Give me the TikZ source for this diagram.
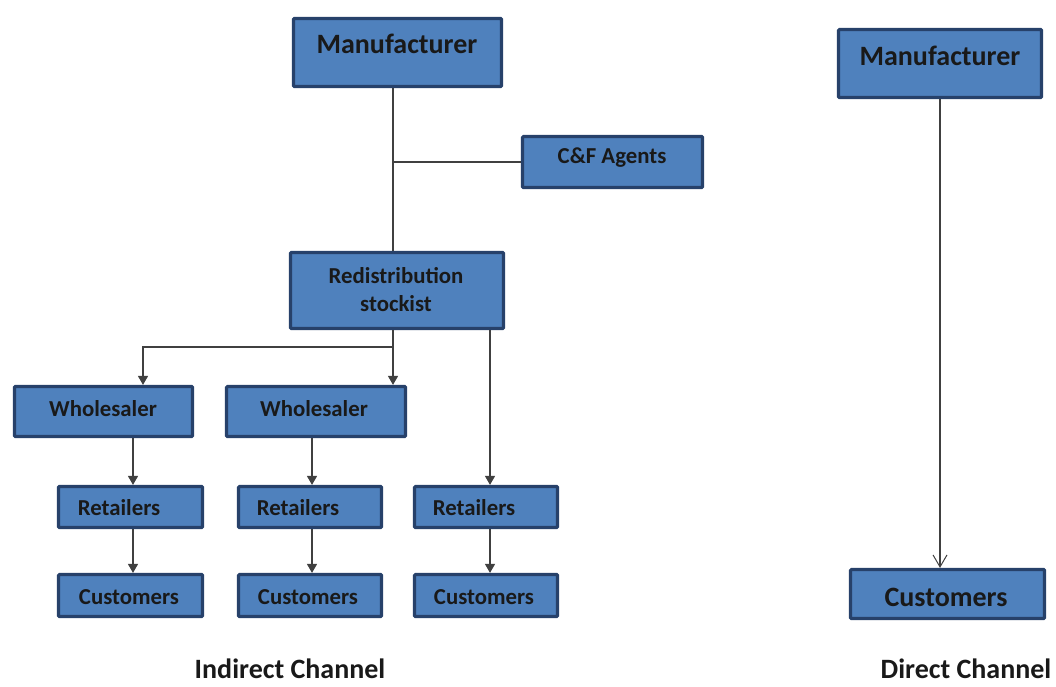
\documentclass[tikz,border=0pt]{standalone}
\usepackage{fontspec}
\setmainfont{Carlito}
\usetikzlibrary{arrows.meta,calc}
\definecolor{boxfill}{HTML}{4F81BD}
\definecolor{boxline}{HTML}{27416A}
\definecolor{conn}{HTML}{404040}
\tikzset{
  box/.style={draw=boxline, fill=boxfill, line width=3.2pt, rounded corners=1pt, inner sep=0pt},
  lbl/.style={font=\bfseries, text=black!90, inner sep=0pt, align=center},
  big/.style={font=\bfseries\fontsize{28}{28}\selectfont},
  mid/.style={font=\bfseries\fontsize{22.8}{28}\selectfont},
  conline/.style={draw=conn, line width=1.3pt},
  farrow/.style={conline, -{Triangle[length=9pt,width=10pt]}},
  oarrow/.style={conline, -{Straight Barb[length=12pt,width=14pt,line width=1pt]}},
}
\begin{document}
\begin{tikzpicture}[x=1pt,y=-1pt]
\useasboundingbox (0,0) rectangle (1056,686);
% boxes
\node[box, minimum width=208pt, minimum height=68pt] (m1) at (397.5,52.5) {};
\node[box, minimum width=180pt, minimum height=51pt] (cf) at (612.5,162) {};
\node[box, minimum width=213pt, minimum height=76pt] (rs) at (397,290.5) {};
\node[box, minimum width=178pt, minimum height=50pt] (w1) at (103.5,411.5) {};
\node[box, minimum width=179pt, minimum height=50pt] (w2) at (316,411.5) {};
\node[box, minimum width=144pt, minimum height=41pt] (r1) at (130.5,507) {};
\node[box, minimum width=143pt, minimum height=41pt] (r2) at (310,507) {};
\node[box, minimum width=143pt, minimum height=41pt] (r3) at (486,507) {};
\node[box, minimum width=144pt, minimum height=42pt] (c1) at (130.5,595.5) {};
\node[box, minimum width=143pt, minimum height=42pt] (c2) at (310,595.5) {};
\node[box, minimum width=143pt, minimum height=42pt] (c3) at (486,595.5) {};
\node[box, minimum width=203pt, minimum height=68pt] (m2) at (940,63.5) {};
\node[box, minimum width=194pt, minimum height=49pt] (c4) at (947.5,594) {};
% labels
\node[lbl, big] (tm1) at (397,44) {Manufacturer};
\node[lbl, mid] (tcf) at (612,158) {C\&F Agents};
\node[lbl, mid] (trs) at (396,290) {Redistribution\\stockist};
\node[lbl, mid] (tw1) at (103,409) {Wholesaler};
\node[lbl, mid] (tw2) at (314,409) {Wholesaler};
\node[lbl, mid] (tr1) at (119,508) {Retailers};
\node[lbl, mid] (tr2) at (298,508) {Retailers};
\node[lbl, mid] (tr3) at (474,508) {Retailers};
\node[lbl, mid] (tc1) at (129,597) {Customers};
\node[lbl, mid] (tc2) at (308,597) {Customers};
\node[lbl, mid] (tc3) at (484,597) {Customers};
\node[lbl, big] (tm2) at (940,56) {Manufacturer};
\node[lbl, big] (tc4) at (946,597) {Customers};
\node[lbl, big, anchor=base, text depth=0pt] (ti) at (290,678) {Indirect Channel};
\node[lbl, big, anchor=base, text depth=0pt] (td) at (966,678) {Direct Channel};
% helper coordinates
\coordinate (xa) at (393,162);
\coordinate (xb) at (393,347);
\coordinate (xc) at (143,347);
\coordinate (xd) at (490,347);
\coordinate (xe) at (133,0);
\coordinate (xf) at (312,0);
\coordinate (xg) at (490,0);
% connectors
\draw[conline] (m1.south -| xa) -- (rs.north -| xa);
\draw[conline] (xa) -- (cf.west);
\draw[farrow] (rs.south -| xb) -- (w2.north -| xb);
\draw[farrow] (xb) -- (xc) -- (w1.north -| xc);
\draw[farrow] (rs.south -| xd) -- (r3.north -| xd);
\draw[farrow] (w1.south -| xe) -- (r1.north -| xe);
\draw[farrow] (r1.south -| xe) -- (c1.north -| xe);
\draw[farrow] (w2.south -| xf) -- (r2.north -| xf);
\draw[farrow] (r2.south -| xf) -- (c2.north -| xf);
\draw[farrow] (r3.south -| xg) -- (c3.north -| xg);
\draw[oarrow] (m2.south) -- (c4.north -| m2.south);
\end{tikzpicture}
\end{document}
